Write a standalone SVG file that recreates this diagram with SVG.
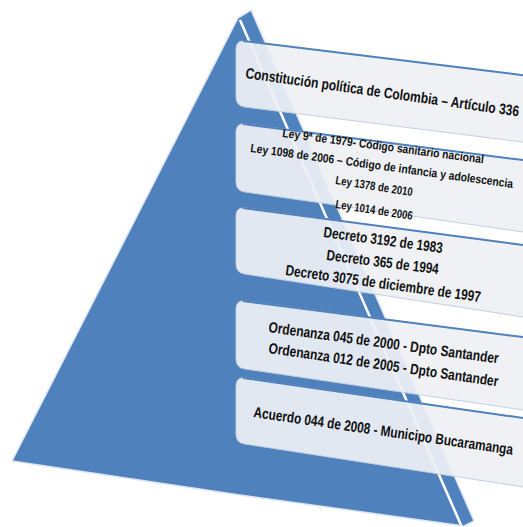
<svg xmlns="http://www.w3.org/2000/svg" width="523" height="527" viewBox="0 0 523 527">
<style>
.box{fill:#EEF0F4;fill-opacity:0.93;stroke:#C3CFE2;stroke-width:1}
.top{fill:none;stroke:#4F81BD;stroke-width:2}
.t{font-family:"Liberation Sans Narrow","Liberation Sans",Arial,sans-serif;font-weight:bold;fill:#111}
.b{font-size:15px}
.s{font-size:12px}
</style>
<rect width="523" height="527" fill="#FFFFFF"/>
<g id="pyramid">
<polygon points="238,18 251,10 474,521 464,526 233,494 12,461" fill="#4F81BD" stroke="#DCE5F1" stroke-width="1.5" stroke-linejoin="round"/>
<line x1="240" y1="20" x2="461" y2="525" stroke="#FFFFFF" stroke-width="2.5"/>
</g>
<g id="connectors"></g>
<g id="level1">
<path class="box" d="M236,49 Q236,40 245,41 L530,76 L530,143 L245,107 Q236,106 236,97 Z"/>
<path class="top" d="M243,41 L530,76"/>
<text class="t b" x="245" y="78" transform="rotate(8 245 78)" textLength="276" lengthAdjust="spacingAndGlyphs">Constitución  política de Colombia – Artículo 336</text>
</g>
<g id="level2">
<path class="box" d="M236,132 Q236,123 245,124 L530,161 L530,233 L245,192 Q236,191 236,182 Z"/>
<path class="top" d="M243,124 L530,161"/>
<text class="t s" x="282" y="137" transform="rotate(7.5 282 137)" textLength="203" lengthAdjust="spacingAndGlyphs">Ley 9ª de 1979- Código sanitario nacional</text>
<text class="t s" x="250" y="152" transform="rotate(7.8 250 152)" textLength="265" lengthAdjust="spacingAndGlyphs">Ley 1098 de 2006 – Código de infancia y adolescencia</text>
<text class="t s" x="335" y="184" transform="rotate(9 335 184)" textLength="78" lengthAdjust="spacingAndGlyphs">Ley 1378 de 2010</text>
<text class="t s" x="335" y="208" transform="rotate(8.8 335 208)" textLength="78" lengthAdjust="spacingAndGlyphs">Ley 1014 de 2006</text>
</g>
<g id="level3">
<path class="box" d="M236,216 Q236,207 245,208 L530,246 L530,318 L245,274 Q236,273 236,264 Z"/>
<path class="top" d="M243,208 L530,246"/>
<text class="t b" x="323" y="237" transform="rotate(7.7 323 237)" textLength="120" lengthAdjust="spacingAndGlyphs">Decreto 3192 de 1983</text>
<text class="t b" x="326" y="260" transform="rotate(7.2 326 260)" textLength="113" lengthAdjust="spacingAndGlyphs">Decreto 365 de 1994</text>
<text class="t b" x="285" y="275" transform="rotate(7.9 285 275)" textLength="197" lengthAdjust="spacingAndGlyphs">Decreto 3075 de diciembre de 1997</text>
</g>
<g id="level4">
<path class="box" d="M236,309 Q236,300 245,301 L530,338 L530,411 L245,369 Q236,368 236,359 Z"/>
<path class="top" d="M243,301 L530,338"/>
<text class="t b" x="268" y="332" transform="rotate(7.8 268 332)" textLength="232" lengthAdjust="spacingAndGlyphs">Ordenanza 045 de 2000 - Dpto Santander</text>
<text class="t b" x="268" y="353" transform="rotate(8.3 268 353)" textLength="232" lengthAdjust="spacingAndGlyphs">Ordenanza 012 de 2005 - Dpto Santander</text>
</g>
<g id="level5">
<path class="box" d="M236,386 Q236,377 245,378 L530,419 L530,488 L245,444 Q236,443 236,434 Z"/>
<path class="top" d="M243,378 L530,419"/>
<text class="t b" x="253" y="417" transform="rotate(8.3 253 417)" textLength="262" lengthAdjust="spacingAndGlyphs">Acuerdo 044 de 2008 - Municipo Bucaramanga</text>
</g>
</svg>
